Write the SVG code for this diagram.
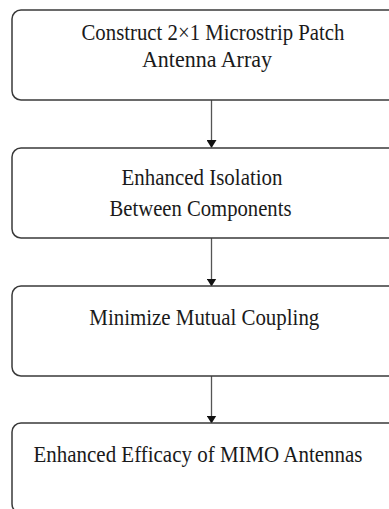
<svg xmlns="http://www.w3.org/2000/svg" width="389" height="509" viewBox="0 0 389 509">
<style>
.box{fill:#fff;stroke:#3a3a3a;stroke-width:1.5}
text{font-family:'Liberation Serif','Times New Roman',serif;font-size:24px;fill:#1a1a1a;text-anchor:middle}
.c{stroke:#555;stroke-width:1.3;fill:none}
</style>
<defs>
<marker id="ah" markerWidth="8" markerHeight="10" refX="7" refY="5" orient="auto" markerUnits="userSpaceOnUse" viewBox="0 0 8 10">
<path d="M0,0 L8,5 L0,10 Z" fill="#111"/>
</marker>
</defs>
<rect width="389" height="509" fill="#fff"/>
<g id="connectors">
<line class="c" x1="211.5" y1="100" x2="211.5" y2="147" marker-end="url(#ah)"/>
<line class="c" x1="211.5" y1="238" x2="211.5" y2="285.5" marker-end="url(#ah)"/>
<line class="c" x1="211.5" y1="376" x2="211.5" y2="422.5" marker-end="url(#ah)"/>
</g>
<g id="node1">
<rect class="box" x="12" y="10" width="400" height="90" rx="9"/>
<text x="213" y="40" textLength="263" lengthAdjust="spacingAndGlyphs">Construct 2×1 Microstrip Patch</text>
<text x="207" y="67" textLength="130" lengthAdjust="spacingAndGlyphs">Antenna Array</text>
</g>
<g id="node2">
<rect class="box" x="12" y="148" width="400" height="90" rx="9"/>
<text x="202" y="185" textLength="161" lengthAdjust="spacingAndGlyphs">Enhanced Isolation</text>
<text x="200.5" y="216" textLength="182" lengthAdjust="spacingAndGlyphs">Between Components</text>
</g>
<g id="node3">
<rect class="box" x="12" y="286" width="400" height="90" rx="9"/>
<text x="204.3" y="325" textLength="230" lengthAdjust="spacingAndGlyphs">Minimize Mutual Coupling</text>
</g>
<g id="node4">
<rect class="box" x="12" y="423" width="400" height="90" rx="9"/>
<text x="198" y="461.5" textLength="329" lengthAdjust="spacingAndGlyphs">Enhanced Efficacy of MIMO Antennas</text>
</g>
</svg>
